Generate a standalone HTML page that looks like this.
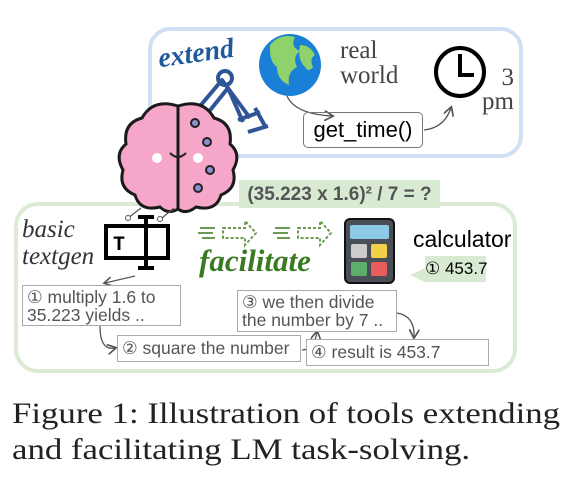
<!DOCTYPE html>
<html><head><meta charset="utf-8"><style>
body{margin:0;width:576px;height:477px;background:#fff;position:relative;overflow:hidden;font-family:"Liberation Sans",sans-serif}
.a{position:absolute}
.bx{position:absolute;border:1.5px solid #aaa;background:#fff;color:#555;font-size:17.5px;line-height:18px;padding:2px 4px;box-sizing:border-box;white-space:nowrap}
.serif{font-family:"Liberation Serif",serif}
</style></head><body>
<div class="a" style="left:148px;top:27px;width:375px;height:131px;border:4px solid #cfe0f2;border-radius:22px;box-sizing:border-box"></div>
<div class="a" style="left:14px;top:202px;width:503px;height:171px;border:4px solid #dcebd5;border-radius:24px;box-sizing:border-box"></div>
<svg class="a" style="left:0;top:0" width="576" height="380">
<defs><marker id="ar" markerWidth="8" markerHeight="8" refX="6" refY="4" orient="auto"><path d="M0,0 L7,4 L0,8" fill="none" stroke="#555" stroke-width="1.3"/></marker></defs>
<g stroke="#2f5597" stroke-width="4" fill="none" stroke-linejoin="round">
<path d="M195,112 L222,80 L250,118"/><path d="M203,119 L228,88 L243,122"/>
<circle cx="225" cy="78" r="7"/><path d="M238,120 l22,-8 M248,132 l20,-6 M255,108 l10,18"/>
<path d="M170,118 L200,108"/>
</g>
<circle cx="290" cy="65" r="31" fill="#1a7fd6"/>
<path d="M270,45 q10,-12 25,-8 q-5,10 5,14 q-8,6 -3,16 q-10,5 -8,18 q-12,-5 -12,-18 q-8,-5 -7,-22z M300,45 q10,0 15,10 q-6,4 -2,12 q-5,6 -8,0 q-8,-8 -5,-22z" fill="#8fd16a"/>
<path d="M287,96 q8,18 45,20" fill="none" stroke="#555" stroke-width="1.3" marker-end="url(#ar)"/>
<circle cx="460" cy="72" r="24" fill="none" stroke="#000" stroke-width="4"/>
<path d="M460,54 V75 H474" fill="none" stroke="#000" stroke-width="4"/>
<path d="M424,130 q20,-2 27,-22" fill="none" stroke="#555" stroke-width="1.3" marker-end="url(#ar)"/>
<g stroke="#1a1a1a" stroke-width="3">
<path d="M178,106 q-25,-8 -36,12 q-19,5 -16,26 q-12,10 -3,26 q-5,18 12,25 q5,17 25,12 q8,8 18,2 q8,6 18,-2 q20,5 25,-12 q17,-7 12,-25 q9,-16 -3,-26 q3,-21 -16,-26 q-11,-20 -36,-12z" fill="#f6a6c8"/>
<path d="M178,106 V208"/>
</g>
<circle cx="195" cy="123" r="4" fill="#8f8fd0" stroke="#222" stroke-width="2"/><circle cx="207" cy="142" r="4" fill="#8f8fd0" stroke="#222" stroke-width="2"/><circle cx="210" cy="170" r="4" fill="#8f8fd0" stroke="#222" stroke-width="2"/><circle cx="198" cy="188" r="4" fill="#8f8fd0" stroke="#222" stroke-width="2"/>
<circle cx="157" cy="158" r="5" fill="#fff"/><circle cx="198" cy="158" r="5" fill="#fff"/>
<path d="M170,153 q8,8 16,0" fill="none" stroke="#222" stroke-width="2"/>
<path d="M141,208 L128,218 M174,208 L162,218" stroke="#555" stroke-width="1.2"/>
<circle cx="128" cy="218" r="2.5" fill="#fff" stroke="#555"/><circle cx="160" cy="219" r="2.5" fill="#fff" stroke="#555"/>
<g stroke="#000" stroke-width="4" fill="none">
<rect x="106" y="226" width="62" height="32"/><path d="M146,217 V268 M138,217 H154 M138,268 H154"/>
</g>
<text x="113" y="250" font-family="Liberation Mono,monospace" font-weight="bold" font-size="20">T</text>
<path d="M135,276 L105,283" stroke="#555" stroke-width="1.2" marker-end="url(#ar)"/>
<g stroke="#6a9a54" stroke-width="2" fill="none">
<path d="M223,228 h22 v-7 l11,12 l-11,12 v-7 h-22z" stroke-dasharray="3,2"/>
<path d="M298,228 h22 v-7 l11,12 l-11,12 v-7 h-22z" stroke-dasharray="3,2"/>
<path d="M200,228 h15 M198,233 h15 M202,238 h13 M275,228 h15 M273,233 h15 M277,238 h13"/>
</g>
<rect x="345" y="219" width="49" height="64" rx="5" fill="#4a4f57" stroke="#111" stroke-width="2"/>
<rect x="350" y="225" width="39" height="14" rx="2" fill="#8ecae6"/>
<rect x="351" y="244" width="16" height="14" rx="2" fill="#ccc"/><rect x="371" y="244" width="16" height="14" rx="2" fill="#f2d04a"/>
<rect x="351" y="262" width="16" height="14" rx="2" fill="#5cae6a"/><rect x="371" y="262" width="16" height="14" rx="2" fill="#e85c5c"/>
<path d="M410,275 L425,268 V282z" fill="#d9ead3"/>
<g fill="none" stroke="#555" stroke-width="1.3">
<path d="M100,326 q0,25 15,22" marker-end="url(#ar)"/>
<path d="M302,350 q12,0 15,-18" marker-end="url(#ar)"/>
<path d="M397,313 q18,3 17,24" marker-end="url(#ar)"/>
</g>
</svg>
<div class="a serif" style="left:158px;top:38px;font-size:28px;font-weight:bold;font-style:italic;color:#1f5a9a;transform:rotate(-8deg)">extend</div>
<div class="a serif" style="left:340px;top:38px;font-size:25px;line-height:25px;color:#444">real<br>world</div>
<div class="a serif" style="left:476px;top:66px;font-size:25px;line-height:24px;color:#444;text-align:right;width:38px">3<br>pm</div>
<div class="a" style="left:303px;top:112px;width:120px;height:36px;border:1.5px solid #777;border-radius:5px;box-sizing:border-box;font-size:22px;line-height:33px;text-align:center">get_time()</div>
<div class="a" style="left:239px;top:180px;width:201px;height:28px;background:#d9ead3;color:#555;font-weight:bold;font-size:19px;line-height:29px;text-align:center;white-space:nowrap">(35.223 x 1.6)² / 7 = ?</div>
<div class="a serif" style="left:22px;top:216px;font-size:25px;line-height:27px;font-style:italic;color:#333">basic<br>textgen</div>
<div class="a serif" style="left:199px;top:243px;font-size:31px;font-weight:bold;font-style:italic;color:#3a7a22">facilitate</div>
<div class="a" style="left:413px;top:226px;font-size:23px">calculator</div>
<div class="a" style="left:425px;top:256px;width:61px;height:26px;background:#d9ead3;font-size:17px;line-height:26px;text-align:center;white-space:nowrap">① 453.7</div>
<div class="bx" style="left:22px;top:285px;width:159px;height:41px">① multiply 1.6 to<br>35.223 yields ..</div>
<div class="bx" style="left:117px;top:335px;width:184px;height:27px;line-height:21px">② square the number</div>
<div class="bx" style="left:237px;top:290px;width:160px;height:42px">③ we then divide<br>the number by 7 ..</div>
<div class="bx" style="left:306px;top:339px;width:183px;height:27px;line-height:21px">④ result is 453.7</div>
<div class="a serif" style="left:12px;top:396px;font-size:30px;line-height:36px;color:#222;white-space:nowrap;transform:scaleX(1.16);transform-origin:0 0">Figure 1: Illustration of tools extending<br>and facilitating LM task-solving.</div>
</body></html>
